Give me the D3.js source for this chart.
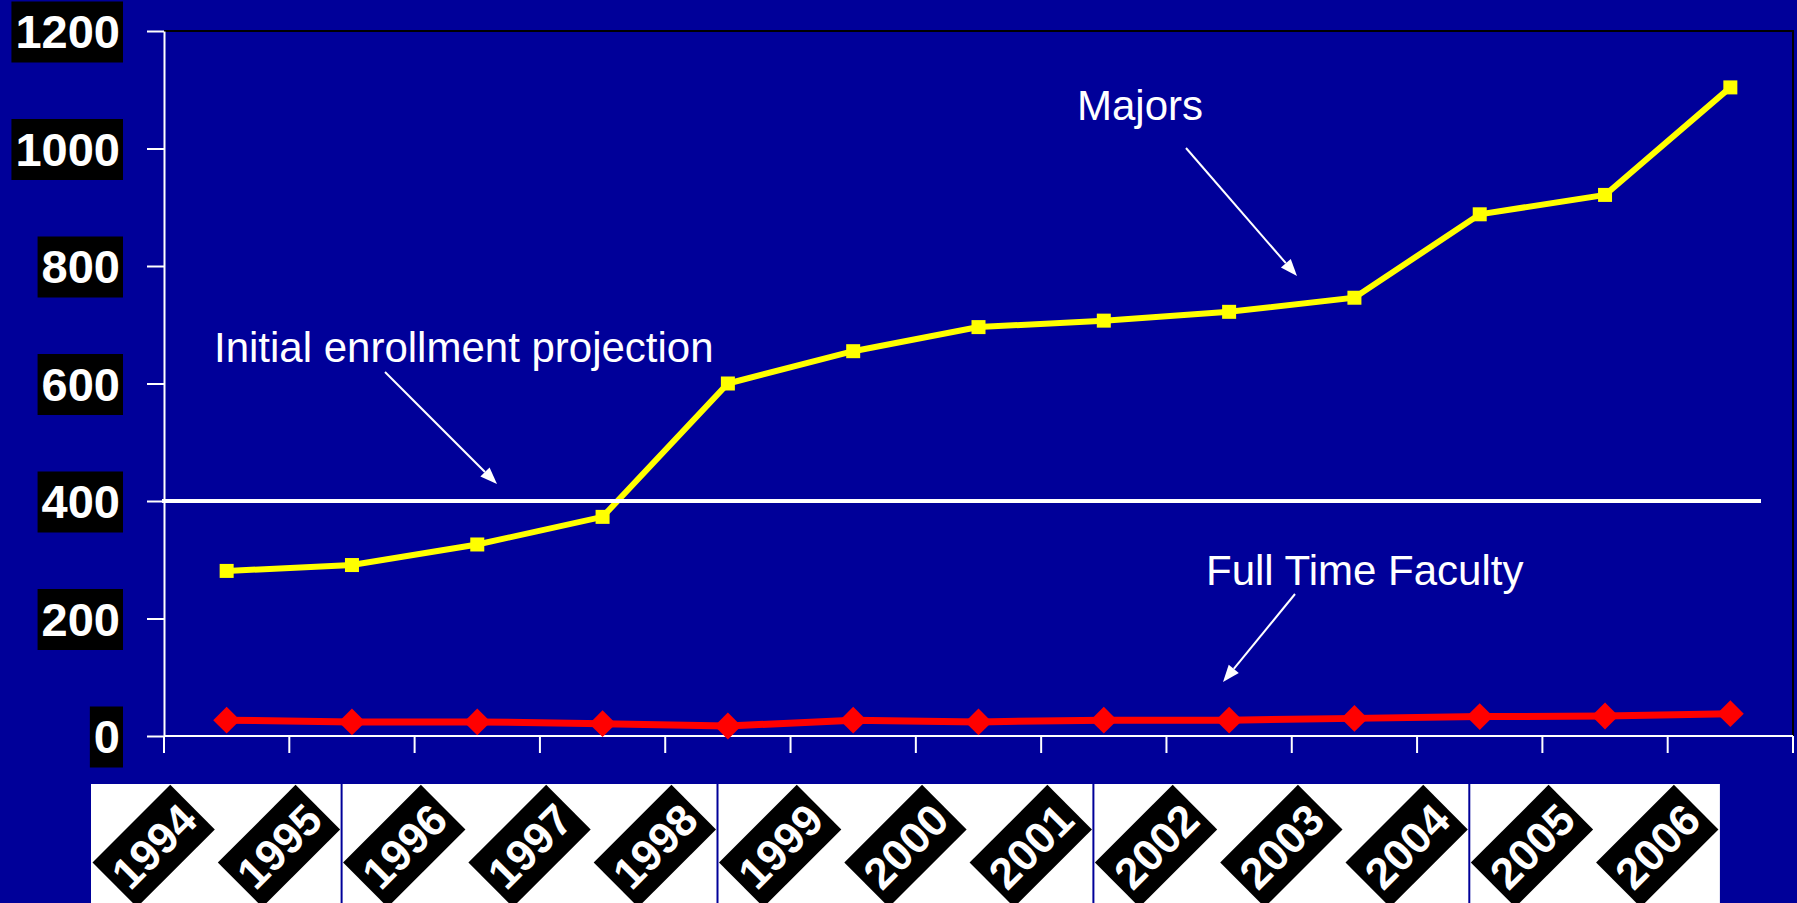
<!DOCTYPE html>
<html>
<head>
<meta charset="utf-8">
<script src="https://cdn.jsdelivr.net/npm/d3@7"></script>
<style>
html, body { margin: 0; padding: 0; background: #000099; overflow: hidden; }
svg { display: block; }
text { font-family: "Liberation Sans", Arial, sans-serif; }
</style>
</head>
<body>
<svg id="chart" width="1797" height="903"></svg>
<script>
// data
var years = ["1994", "1995", "1996", "1997", "1998", "1999", "2000", "2001", "2002", "2003", "2004", "2005", "2006"];
var majors = [281, 291, 326, 373, 600, 655, 696, 707, 722, 746, 888, 921, 1104];
var faculty = [27, 24, 24, 21, 17, 27, 24, 27, 27, 30, 33, 34, 38];
var yTicks = [0, 200, 400, 600, 800, 1000, 1200];
var projection = 400;
var labelGroups = [2, 3, 3, 3, 2];   // how the year pictures are grouped under the axis

var W = 1797, H = 903,
	plotLeft = 164, plotRight = 1793, plotTop = 31, plotBottom = 736;

var svg = d3.select("#chart");
svg.append("rect").attr("width", W).attr("height", H).attr("fill", "#000099");

var x = d3.scaleBand().domain(years).range([plotLeft, plotRight]),
	y = d3.scaleLinear().domain([0, 1200]).range([plotBottom, plotTop]);

function cx(d) { return x(d) + x.bandwidth() / 2; }

// black frame on top and right
svg.append("path")
	.attr("d", "M" + plotLeft + "," + plotTop + "H" + plotRight + "V" + plotBottom)
	.attr("fill", "none")
	.attr("stroke", "#000")
	.attr("stroke-width", 2);

// y axis
var yAxis = svg.append("g")
	.attr("transform", "translate(" + plotLeft + ",0)")
	.call(d3.axisLeft(y).tickValues(yTicks).tickSize(17).tickSizeOuter(0).tickPadding(27).tickFormat(d3.format("d")));

yAxis.select(".domain").attr("stroke", "#fff").attr("stroke-width", 2);
yAxis.selectAll(".tick line").attr("stroke", "#fff").attr("stroke-width", 2);
yAxis.selectAll(".tick text")
	.attr("fill", "#fff")
	.attr("font-size", 47)
	.attr("font-weight", "bold")
	.attr("font-family", "'Liberation Sans', Arial, sans-serif")
	.attr("dy", "0.36em");

// black boxes behind the y labels
yAxis.selectAll(".tick").each(function() {
	var t = d3.select(this).select("text"),
		b = t.node().getBBox();
	d3.select(this).insert("rect", "text")
		.attr("x", b.x - 4)
		.attr("y", -30)
		.attr("width", b.width + 7)
		.attr("height", 61)
		.attr("fill", "#000");
});

// x axis line and ticks at band edges
var xAxis = svg.append("g");
xAxis.append("line")
	.attr("x1", plotLeft).attr("x2", plotRight)
	.attr("y1", plotBottom).attr("y2", plotBottom)
	.attr("stroke", "#fff").attr("stroke-width", 2);
var edges = years.map(function(d) { return x(d); }).concat([x.range()[1]]);
xAxis.selectAll("line.tick").data(edges).enter().append("line")
	.attr("class", "tick")
	.attr("x1", function(d) { return d; }).attr("x2", function(d) { return d; })
	.attr("y1", plotBottom).attr("y2", plotBottom + 17)
	.attr("stroke", "#fff").attr("stroke-width", 2);

// series
var line = d3.line()
	.x(function(d, i) { return cx(years[i]); })
	.y(function(d) { return y(d); });

svg.append("path").datum(faculty)
	.attr("d", line)
	.attr("fill", "none")
	.attr("stroke", "#ff0000")
	.attr("stroke-width", 7);

svg.selectAll("path.fac").data(faculty).enter().append("path")
	.attr("class", "fac")
	.attr("d", d3.symbol(d3.symbolSquare, 361))
	.attr("transform", function(d, i) { return "translate(" + cx(years[i]) + "," + y(d) + ") rotate(45)"; })
	.attr("fill", "#ff0000");

svg.append("path").datum(majors)
	.attr("d", line)
	.attr("fill", "none")
	.attr("stroke", "#ffff00")
	.attr("stroke-width", 6);

svg.selectAll("rect.maj").data(majors).enter().append("rect")
	.attr("class", "maj")
	.attr("x", function(d, i) { return cx(years[i]) - 7; })
	.attr("y", function(d) { return y(d) - 7; })
	.attr("width", 14).attr("height", 14)
	.attr("fill", "#ffff00");

// initial enrollment projection line
svg.append("line")
	.attr("x1", plotLeft - 2).attr("x2", 1761)
	.attr("y1", y(projection)).attr("y2", y(projection))
	.attr("stroke", "#fff").attr("stroke-width", 4);

// annotations
function arrow(x1, y1, x2, y2) {
	var a = Math.atan2(y2 - y1, x2 - x1), len = 17, hw = 6.5,
		bx = x2 - len * Math.cos(a), by = y2 - len * Math.sin(a);
	svg.append("line")
		.attr("x1", x1).attr("y1", y1).attr("x2", bx).attr("y2", by)
		.attr("stroke", "#fff").attr("stroke-width", 2);
	svg.append("polygon")
		.attr("points", [
			[x2, y2],
			[bx - hw * Math.sin(a), by + hw * Math.cos(a)],
			[bx + hw * Math.sin(a), by - hw * Math.cos(a)]
		].join(" "))
		.attr("fill", "#fff");
}

function note(txt, tx, ty) {
	svg.append("text")
		.attr("x", tx).attr("y", ty)
		.attr("fill", "#fff")
		.attr("font-size", 42)
		.text(txt);
}

note("Majors", 1077, 120);
arrow(1186, 148, 1297, 276);

note("Initial enrollment projection", 214, 362);
arrow(385, 372, 497, 484);

note("Full Time Faculty", 1206, 585);
arrow(1295, 594, 1223, 682);

// year labels: white strips with black rotated tags
var xl = d3.scaleBand().domain(years).range([91, 91 + 125.3 * years.length]);
var start = 0;
labelGroups.forEach(function(n) {
	var end = start + n,
		x0 = xl(years[start]) + (start > 0 ? 1 : 0),
		x1 = xl(years[end - 1]) + xl.bandwidth() - (end < years.length ? 1 : 0);
	svg.append("rect")
		.attr("x", x0).attr("y", 784)
		.attr("width", x1 - x0).attr("height", H - 784)
		.attr("fill", "#fff");
	start = end;
});

var tags = svg.selectAll("g.tag").data(years).enter().append("g")
	.attr("class", "tag")
	.attr("transform", function(d) { return "translate(" + (xl(d) + xl.bandwidth() / 2) + ",846) rotate(-45)"; });

tags.append("rect")
	.attr("x", -55).attr("y", -31.5)
	.attr("width", 110).attr("height", 63)
	.attr("fill", "#000");

tags.append("text")
	.attr("text-anchor", "middle")
	.attr("dy", "0.36em")
	.attr("fill", "#fff")
	.attr("font-size", 44)
	.attr("font-weight", "bold")
	.text(function(d) { return d; });
</script>
</body>
</html>
